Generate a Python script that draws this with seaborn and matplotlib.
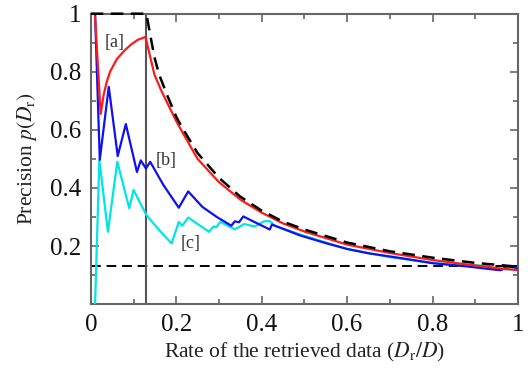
import matplotlib
matplotlib.use("Agg")
import matplotlib.pyplot as plt
from matplotlib.ticker import MultipleLocator
import seaborn as sns
import pandas as pd

# ---- data ----
red_x = [0.01, 0.023, 0.03, 0.037, 0.045, 0.061, 0.08, 0.096, 0.11, 0.128, 0.136, 0.149,
         0.165, 0.18, 0.2, 0.219, 0.25, 0.3, 0.35, 0.4, 0.45, 0.5, 0.6, 0.7, 0.8, 0.9, 0.958, 1.0]
red_y = [0.99, 0.655, 0.72, 0.764, 0.80, 0.844, 0.875, 0.896, 0.91, 0.92, 0.87, 0.79,
         0.735, 0.69, 0.63, 0.58, 0.50, 0.42, 0.36, 0.315, 0.278, 0.25, 0.205, 0.176, 0.152, 0.133, 0.123, 0.117]

ideal_x = [0.0, 0.13, 0.14, 0.149, 0.16, 0.18, 0.2, 0.215, 0.25, 0.3, 0.35, 0.4, 0.45,
           0.5, 0.6, 0.7, 0.8, 0.9, 1.0]
ideal_y = [1.0, 1.0, 0.92, 0.85, 0.79, 0.715, 0.645, 0.605, 0.52, 0.435, 0.37, 0.322, 0.284,
           0.257, 0.212, 0.182, 0.16, 0.142, 0.129]

blue_x = [0.01, 0.021, 0.042, 0.063, 0.082, 0.108, 0.117, 0.129, 0.139, 0.17, 0.206, 0.228,
          0.261, 0.295, 0.329, 0.337, 0.347, 0.357, 0.38, 0.419, 0.424, 0.489, 0.55, 0.6, 0.65,
          0.724, 0.8, 0.88, 0.95, 0.96, 0.973, 0.99, 1.0]
blue_y = [0.996, 0.497, 0.748, 0.51, 0.62, 0.455, 0.495, 0.467, 0.49, 0.41, 0.332, 0.388,
          0.335, 0.30, 0.27, 0.285, 0.282, 0.302, 0.285, 0.257, 0.274, 0.237, 0.21, 0.19, 0.175,
          0.159, 0.141, 0.13, 0.118, 0.117, 0.129, 0.128, 0.12]

cyan_x = [0.01, 0.02, 0.04, 0.062, 0.09, 0.10, 0.13, 0.16, 0.189, 0.206, 0.214, 0.228, 0.277,
          0.287, 0.294, 0.303, 0.337, 0.349, 0.359, 0.384, 0.405, 0.419, 0.43, 0.5, 0.6, 0.7,
          0.8, 0.88, 0.9, 0.93, 0.95, 1.0]
cyan_y = [0.0, 0.497, 0.249, 0.49, 0.33, 0.393, 0.307, 0.255, 0.209, 0.283, 0.27, 0.298, 0.249,
          0.267, 0.265, 0.283, 0.258, 0.267, 0.276, 0.267, 0.285, 0.286, 0.27, 0.235, 0.19, 0.162,
          0.142, 0.132, 0.134, 0.131, 0.12, 0.12]

base_rate = 0.13          # horizontal dashed level and vertical separator position
x_ticks = [0, 0.2, 0.4, 0.6, 0.8, 1.0]
x_labels = ["0", "0.2", "0.4", "0.6", "0.8", "1"]
y_ticks = [0.2, 0.4, 0.6, 0.8, 1.0]
y_labels = ["0.2", "0.4", "0.6", "0.8", "1"]

sns.set_style("ticks")
plt.rcParams["font.family"] = ["Liberation Serif", "DejaVu Serif"]
plt.rcParams["mathtext.fontset"] = "stix"

fig = plt.figure(figsize=(5.28, 3.70), dpi=100)
ax = fig.add_axes([0.172, 0.178, 0.809, 0.785])

df_c = pd.DataFrame({"x": cyan_x, "y": cyan_y})
df_b = pd.DataFrame({"x": blue_x, "y": blue_y})
df_r = pd.DataFrame({"x": red_x, "y": red_y})
df_i = pd.DataFrame({"x": ideal_x, "y": ideal_y})

sns.lineplot(data=df_c, x="x", y="y", sort=False, ax=ax, color="#00e5e5", lw=1.6, zorder=3)
sns.lineplot(data=df_b, x="x", y="y", sort=False, ax=ax, color="#1010ee", lw=1.6, zorder=4)
sns.lineplot(data=df_r, x="x", y="y", sort=False, ax=ax, color="#ff1a1a", lw=1.6, zorder=5)
sns.lineplot(data=df_i, x="x", y="y", sort=False, ax=ax, color="black", lw=1.8, zorder=6)
ideal_line = ax.lines[-1]
ideal_line.set_dashes([5, 3])
ideal_line.set_clip_on(False)

ax.axhline(base_rate, color="black", lw=1.4, ls=(0, (5, 3)), zorder=2)
ax.axvline(base_rate, color="#555555", lw=1.5, zorder=2)

ax.set_xlim(0, 1)
ax.set_ylim(0, 1)
ax.set_xticks(x_ticks)
ax.set_xticklabels(x_labels)
ax.set_yticks(y_ticks)
ax.set_yticklabels(y_labels)
ax.xaxis.set_minor_locator(MultipleLocator(0.1))
ax.yaxis.set_minor_locator(MultipleLocator(0.1))
ax.tick_params(which="both", direction="in", top=True, right=True, color="#666666", width=1.2)
ax.tick_params(which="major", length=6, labelsize=18, labelcolor="#111111", pad=7)
ax.tick_params(which="minor", length=3.5)
for s in ax.spines.values():
    s.set_color("#666666")
    s.set_linewidth(1.5)

ax.set_xlabel(r"Rate of the retrieved data ($D_{\rm r}/D$)", fontsize=15.5, color="#222222", labelpad=4)
ax.set_ylabel(r"Precision $p(D_{\rm r})$", fontsize=15.5, color="#222222", labelpad=8)

ax.text(0.055, 0.90, "[a]", fontsize=13, color="#333333", ha="center", va="center")
ax.text(0.176, 0.495, "[b]", fontsize=13, color="#333333", ha="center", va="center")
ax.text(0.233, 0.209, "[c]", fontsize=13, color="#333333", ha="center", va="center")

fig.savefig("out.png", dpi=100)
